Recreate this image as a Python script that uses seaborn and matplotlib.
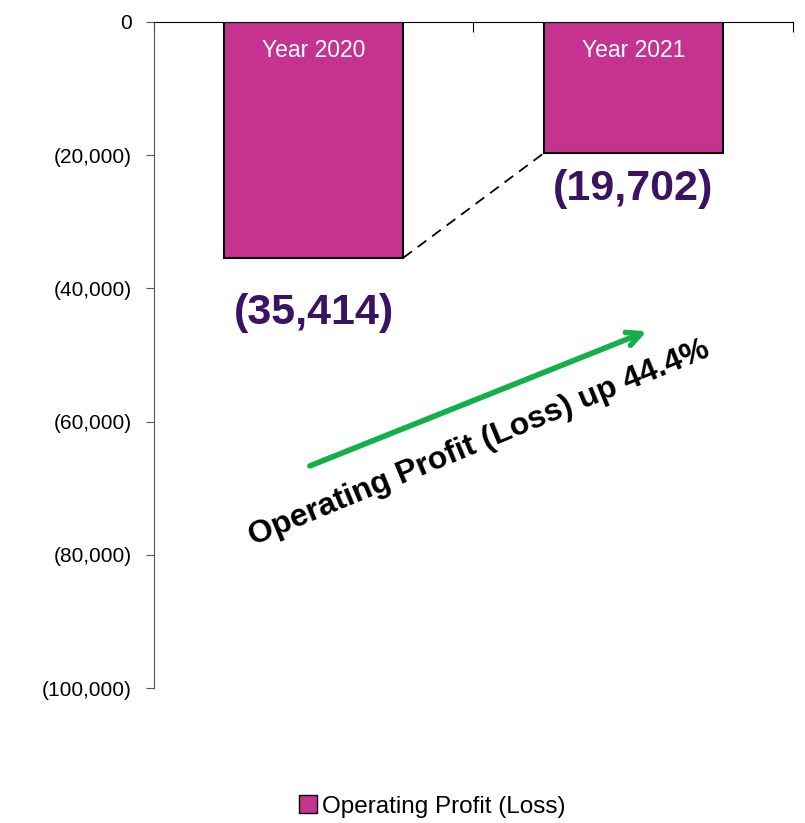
import matplotlib
matplotlib.use('Agg')
import matplotlib.pyplot as plt
import seaborn as sns
import pandas as pd
from matplotlib.patches import Patch
from matplotlib.ticker import FuncFormatter

# datos
years = ['Year 2020', 'Year 2021']
profit = [-35414, -19702]
value_labels = ['(35,414)', '(19,702)']
y_ticks = [0, -20000, -40000, -60000, -80000, -100000]
series_name = 'Operating Profit (Loss)'
note = 'Operating Profit (Loss) up 44.4%'

bar_color = '#C4338F'
label_color = '#3B1363'
bar_w = 0.56
label_off = [8300, 5400]

sns.set_style('white')
plt.rcParams['font.family'] = ['Liberation Sans', 'DejaVu Sans']
plt.rcParams['text.color'] = 'black'
plt.rcParams['ytick.labelcolor'] = 'black'

df = pd.DataFrame({'year': years, 'profit': profit})

fig = plt.figure(figsize=(8.05, 8.23), dpi=100)
ax = fig.add_axes([0.1913, 0.164, 0.7937, 0.8093])

sns.barplot(data=df, x='year', y='profit', color=bar_color, width=bar_w,
            edgecolor='black', linewidth=1.5, saturation=1, ax=ax)

ax.set_ylim(-100000, 0)
ax.set_xlim(-0.5, 1.5)
ax.set_yticks(y_ticks)
ax.yaxis.set_major_formatter(FuncFormatter(
    lambda v, p: '0' if v == 0 else '({:,.0f})'.format(abs(v))))
ax.tick_params(axis='y', labelsize=15, length=6, color='#555555', left=True, pad=10,
               labelcolor='black')

# eje x arriba, ticks en los limites de categoria
ax.xaxis.set_ticks_position('top')
ax.set_xticks([-0.5, 0.5, 1.5])
ax.set_xticklabels([])
ax.tick_params(axis='x', direction='in', length=7, color='black', top=True)
ax.set_xlabel('')
ax.set_ylabel('')
ax.spines['bottom'].set_visible(False)
ax.spines['right'].set_visible(False)
ax.spines['top'].set_color('black')
ax.spines['left'].set_color('#555555')

# etiquetas
for i, (yr, v, lab) in enumerate(zip(years, profit, value_labels)):
    ax.text(i, -4300, yr, color='white', fontsize=16.5, ha='center', va='center')
    ax.text(i, v - label_off[i], lab, color=label_color, fontsize=31, fontweight='bold',
            ha='center', va='center')

# linea discontinua entre barras
ax.plot([bar_w / 2, 1 - bar_w / 2], profit, ls=(0, (6, 4)), color='black', lw=1.3)

# flecha verde y texto
ax.annotate('', xy=(1.05, -46300), xytext=(-0.02, -66800),
            arrowprops=dict(arrowstyle='->,head_length=1.0,head_width=0.5',
                            color='#12B04A', lw=4))
ax.text(0.517, -63200, note, rotation=22.5, fontsize=23, fontweight='bold',
        color='black', ha='center', va='center', rotation_mode='anchor')

fig.legend(handles=[Patch(facecolor=bar_color, edgecolor='black', label=series_name)],
           loc='center', bbox_to_anchor=(0.537, 0.02), frameon=False, fontsize=17.5,
           handlelength=0.75, handleheight=0.75, handletextpad=0.2)

fig.savefig('out.png', dpi=100)
